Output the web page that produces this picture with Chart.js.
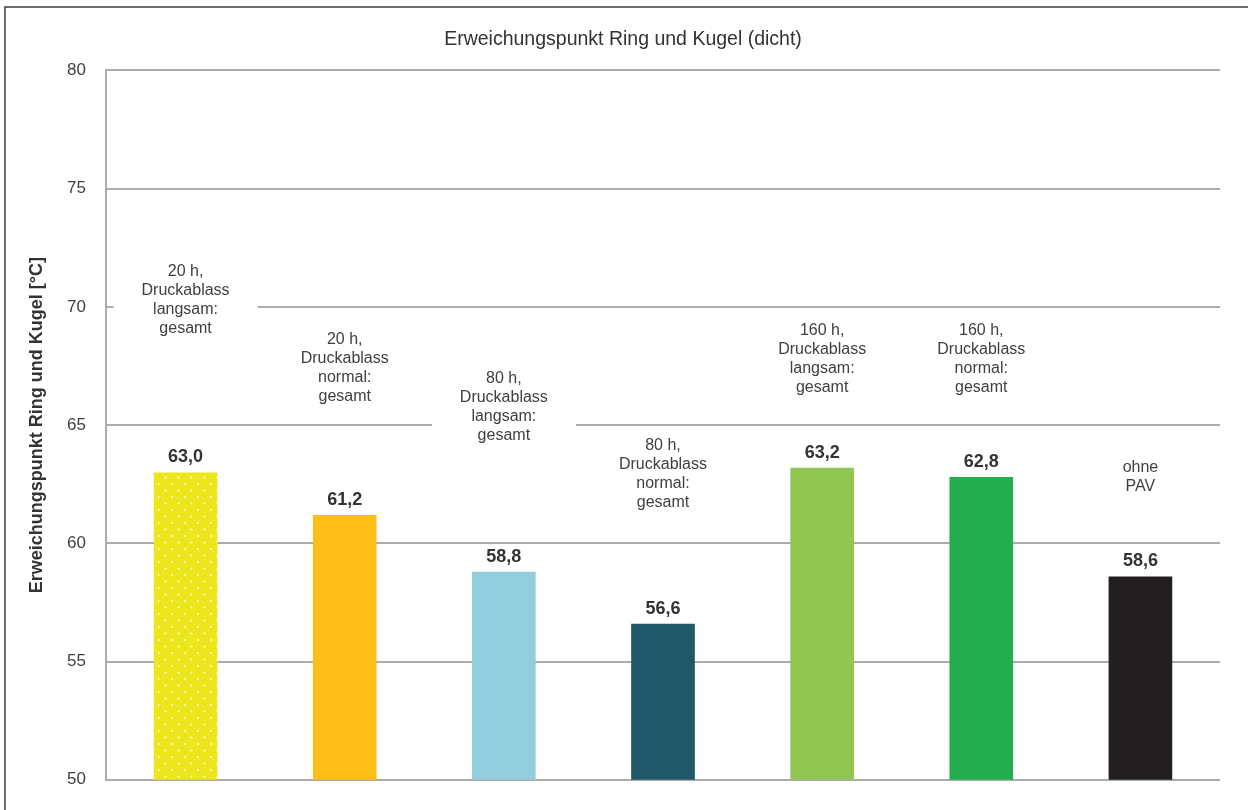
<!DOCTYPE html>
<html>
<head>
    <meta charset='utf-8'>
    <title>Erweichungspunkt Ring und Kugel</title>
    <script src='https://cdn.jsdelivr.net/npm/chart.js@4.4.0/dist/chart.umd.min.js'></script>
    <style>
        body { margin: 0; background: #fff; }
        #wrap { width: 1248px; height: 810px; }
    </style>
</head>
<body>
<div id="wrap"><canvas id="myChart" width="1248" height="810"></canvas></div>
<script>
const categories = [
    ['20 h,', 'Druckablass', 'langsam:', 'gesamt'],
    ['20 h,', 'Druckablass', 'normal:', 'gesamt'],
    ['80 h,', 'Druckablass', 'langsam:', 'gesamt'],
    ['80 h,', 'Druckablass', 'normal:', 'gesamt'],
    ['160 h,', 'Druckablass', 'langsam:', 'gesamt'],
    ['160 h,', 'Druckablass', 'normal:', 'gesamt'],
    ['ohne', 'PAV']
];
const values = [63.0, 61.2, 58.8, 56.6, 63.2, 62.8, 58.6];
const yTicks = [50, 55, 60, 65, 70, 75, 80];

// where the first line of each category text sits (in axis units)
const labelAnchor = [71.5, 68.6, 66.95, 64.15, 69.0, 69.0, 63.2];

// dotted yellow for the first bar
function dots() {
    const c = document.createElement('canvas');
    c.width = 13; c.height = 13;
    const g = c.getContext('2d');
    g.fillStyle = '#ede61c';
    g.fillRect(0, 0, 13, 13);
    g.fillStyle = 'rgba(255,255,255,0.85)';
    g.beginPath(); g.arc(3, 3, 1.1, 0, Math.PI * 2); g.fill();
    g.beginPath(); g.arc(9.5, 9.5, 1.1, 0, Math.PI * 2); g.fill();
    return g.createPattern(c, 'repeat');
}

const colors = [dots(), '#fdbe17', '#92cddc', '#215868', '#92c653', '#22ad4f', '#231f20'];

const fmt = v => v.toFixed(1).replace('.', ',');

const framePlugin = {
    id: 'frame',
    beforeDraw(chart) {
        const ctx = chart.ctx;
        ctx.save();
        ctx.fillStyle = '#fff';
        ctx.fillRect(0, 0, chart.width, chart.height);
        ctx.strokeStyle = '#3c3c3c';
        ctx.lineWidth = 1.5;
        ctx.strokeRect(5, 7, 2000, 2000);
        ctx.restore();
    }
};

const catTextPlugin = {
    id: 'catText',
    beforeDatasetsDraw(chart) {
        const ctx = chart.ctx;
        const x = chart.scales.x, y = chart.scales.y;
        const lh = 19;
        ctx.save();
        ctx.font = '16px "Liberation Sans", Arial, sans-serif';
        ctx.textAlign = 'center';
        ctx.textBaseline = 'middle';
        categories.forEach((lines, i) => {
            const cx = x.getPixelForValue(i);
            const top = y.getPixelForValue(labelAnchor[i]);
            ctx.fillStyle = '#fff';
            ctx.fillRect(cx - 72, top - lh / 2 - 4, 144, lines.length * lh + 8);
            ctx.fillStyle = '#404040';
            lines.forEach((t, k) => ctx.fillText(t, cx, top + k * lh));
        });
        ctx.restore();
    },
    afterDatasetsDraw(chart) {
        const ctx = chart.ctx;
        const meta = chart.getDatasetMeta(0);
        ctx.save();
        ctx.font = 'bold 18px "Liberation Sans", Arial, sans-serif';
        ctx.textAlign = 'center';
        ctx.textBaseline = 'alphabetic';
        ctx.fillStyle = '#333';
        meta.data.forEach((bar, i) => {
            ctx.fillText(fmt(values[i]), bar.x, bar.y - 10);
        });
        ctx.restore();
    }
};

const ctx = document.getElementById('myChart').getContext('2d');
const myChart = new Chart(ctx, {
    type: 'bar',
    data: {
        labels: categories.map(c => c.join(' ')),
        datasets: [{
            data: values,
            backgroundColor: colors,
            borderWidth: 0,
            categoryPercentage: 1,
            barPercentage: 0.4
        }]
    },
    options: {
        responsive: false,
        animation: false,
        layout: { padding: { left: 26, right: 28, top: 0, bottom: 29 } },
        plugins: {
            legend: { display: false },
            tooltip: { enabled: false },
            title: {
                display: true,
                text: 'Erweichungspunkt Ring und Kugel (dicht)',
                color: '#333',
                font: { family: '"Liberation Sans", Arial, sans-serif', size: 19.5, weight: 'normal' },
                padding: { top: 28, bottom: 19 }
            }
        },
        scales: {
            x: { display: false },
            y: {
                min: yTicks[0],
                max: yTicks[yTicks.length - 1],
                afterBuildTicks: s => { s.ticks = yTicks.map(v => ({ value: v })); },
                afterFit: s => { s.width = 80; },
                grid: { color: '#ababab', lineWidth: 2, drawTicks: false },
                border: { display: true, color: '#ababab', width: 2 },
                ticks: {
                    padding: 20,
                    color: '#404040',
                    font: { family: '"Liberation Sans", Arial, sans-serif', size: 17 }
                },
                title: {
                    display: true,
                    text: 'Erweichungspunkt Ring und Kugel [°C]',
                    color: '#333',
                    font: { family: '"Liberation Sans", Arial, sans-serif', size: 18, weight: 'bold' },
                    padding: { top: 0, bottom: 0 }
                }
            }
        }
    },
    plugins: [framePlugin, catTextPlugin]
});
</script>
</body>
</html>
